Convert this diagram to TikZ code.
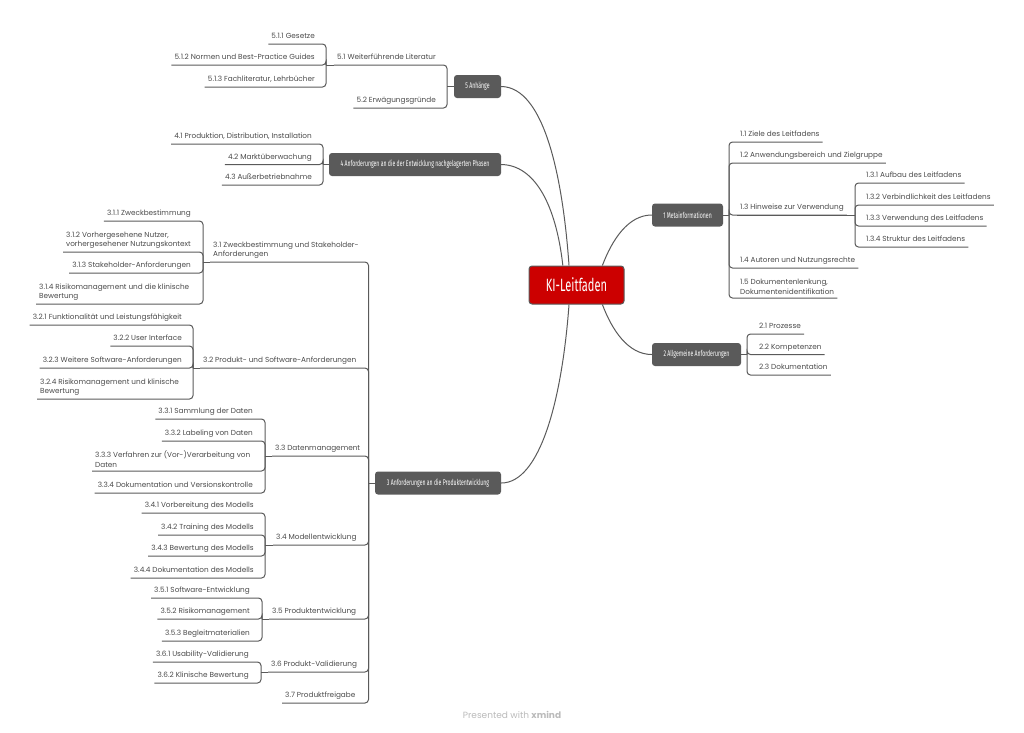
\documentclass[tikz,border=0pt]{standalone}
\usepackage{fontspec}
\setmainfont{Poppins}
\newfontfamily\narrowfont[FakeStretch=0.62]{Fira Sans}
\usepackage{xcolor}
\definecolor{linegray}{HTML}{5A5A5A}
\definecolor{textgray}{HTML}{4A4A4A}
\definecolor{boxgray}{HTML}{5A5A5A}
\definecolor{rootred}{HTML}{CC0000}
\tikzset{
  leaf/.style={font=\fontsize{7.3}{9}\selectfont, text=textgray, inner xsep=3pt, inner ysep=3pt, text depth=2pt},
  leafl/.style={leaf, anchor=south east},
  leafr/.style={leaf, anchor=south west},
  twoline/.style={font=\fontsize{7.3}{9.3}\selectfont, text=textgray, inner xsep=3pt, inner ysep=3.5pt, align=left},
  topic/.style={rectangle, rounded corners=3pt, fill=boxgray, text=white, font=\narrowfont\fontsize{8.3}{9}\selectfont, inner sep=0pt, minimum height=23pt},
  link/.style={draw=linegray, line width=1pt, rounded corners=3.5pt},
  branch/.style={draw=linegray, line width=1pt}
}
\begin{document}
\begin{tikzpicture}[x=1pt,y=-1pt]
\useasboundingbox (0,0) rectangle (1024,732);

% centre and main topics
\node[rectangle, rounded corners=3pt, fill=rootred, draw=linegray, line width=1pt, text=white, font=\narrowfont\fontsize{17.8}{19}\selectfont, minimum width=95pt, minimum height=38pt, inner sep=0pt] (kl) at (576.5,285) {KI-Leitfaden};
\node[topic, minimum width=71pt] (n1) at (687.5,215) {1 Metainformationen};
\node[topic, minimum width=89pt] (n2) at (696.5,354.5) {2 Allgemeine Anforderungen};
\node[topic, minimum width=126pt] (n3) at (438,483) {3 Anforderungen an die Produktentwicklung};
\node[topic, minimum width=172pt] (n4) at (415,164.5) {4 Anforderungen an die der Entwicklung nachgelagerten Phasen};
\node[topic, minimum width=47pt] (n5) at (477.5,86.5) {5 Anhänge};

\draw[branch] (kl.37) .. controls (612,240) and (628,215) .. (n1.west);
\draw[branch] (kl.-37) .. controls (612,330) and (628,354.5) .. (n2.west);
\draw[branch] (kl.111.5) .. controls (563,180) and (545,87) .. (n5.east);
\draw[branch] (kl.125.4) .. controls (556,205) and (535,165) .. (n4.east);
\draw[branch] (kl.-111.5) .. controls (562,400) and (540,483) .. (n3.east);

% 1 Metainformationen
\coordinate (t1) at (729,215);
\coordinate (t13) at (855,215);
\node[leafr] (n11) at (737,142) {1.1 Ziele des Leitfadens};
\node[leafr] (n12) at (737,163) {1.2 Anwendungsbereich und Zielgruppe};
\node[leafr] (n13) at (737,215) {1.3 Hinweise zur Verwendung};
\node[leafr] (n14) at (737,268) {1.4 Autoren und Nutzungsrechte};
\node[twoline, anchor=south west] (n15) at (737,298) {1.5 Dokumentenlenkung,\\Dokumentenidentifikation};
\node[leafr] (n131) at (863,183) {1.3.1 Aufbau des Leitfadens};
\node[leafr] (n132) at (863,205) {1.3.2 Verbindlichkeit des Leitfadens};
\node[leafr] (n133) at (863,226) {1.3.3 Verwendung des Leitfadens};
\node[leafr] (n134) at (863,247) {1.3.4 Struktur des Leitfadens};
\draw[link] (n1.east) -- (t1);
\foreach \c in {n11,n12,n13,n14,n15} \draw[link] (\c.south east) -| (t1);
\foreach \c in {n131,n132,n133,n134} \draw[link] (\c.south east) -| (t13);
\draw[link] (n13.south west) -- (t13);

% 2 Allgemeine Anforderungen
\coordinate (t2) at (747,354.5);
\node[leafr] (n21) at (756,334) {2.1 Prozesse};
\node[leafr] (n22) at (756,354.5) {2.2 Kompetenzen};
\node[leafr] (n23) at (756,375) {2.3 Dokumentation};
\draw[link] (n2.east) -- (t2);
\foreach \c in {n21,n22,n23} \draw[link] (\c.south east) -| (t2);

% 5 Anhaenge
\coordinate (t5) at (447,86.5);
\coordinate (t51) at (326,65);
\node[leafl] (n51) at (439,65) {5.1 Weiterführende Literatur};
\node[leafl] (n52) at (439,108) {5.2 Erwägungsgründe};
\node[leafl] (n511) at (318,44) {5.1.1 Gesetze};
\node[leafl] (n512) at (318,65) {5.1.2 Normen und Best-Practice Guides};
\node[leafl] (n513) at (318,87) {5.1.3 Fachliteratur, Lehrbücher};
\draw[link] (n5.west) -- (t5);
\foreach \c in {n51,n52} \draw[link] (\c.south west) -| (t5);
\foreach \c in {n511,n512,n513} \draw[link] (\c.south west) -| (t51);
\draw[link] (t51) -- (n51.south west);

% 4 nachgelagerte Phasen
\coordinate (t4) at (323,164.5);
\node[leafl] (n41) at (315,144) {4.1 Produktion, Distribution, Installation};
\node[leafl] (n42) at (315,164.5) {4.2 Marktüberwachung};
\node[leafl] (n43) at (315,185) {4.3 Außerbetriebnahme};
\draw[link] (n4.west) -- (t4);
\foreach \c in {n41,n42,n43} \draw[link] (\c.south west) -| (t4);

% 3 Produktentwicklung
\coordinate (t3) at (368.5,483);
\node[twoline, anchor=south west] (n31) at (210,262) {3.1 Zweckbestimmung und Stakeholder-\\Anforderungen};
\node[leafr] (n32) at (200,368) {3.2 Produkt- und Software-Anforderungen};
\node[leafr] (n33) at (272,456) {3.3 Datenmanagement};
\node[leafr] (n34) at (273,545) {3.4 Modellentwicklung};
\node[leafr] (n35) at (269,619) {3.5 Produktentwicklung};
\node[leafr] (n36) at (268,672) {3.6 Produkt-Validierung};
\node[leafr] (n37) at (282,703) {3.7 Produktfreigabe};
\draw[link] (n3.west) -- (t3);
\foreach \c in {n31,n32,n33,n34,n35,n36,n37} \draw[link] (\c.south west) -| (t3);

\coordinate (t31) at (203,262);
\node[leafl] (n311) at (194,221) {3.1.1 Zweckbestimmung};
\node[twoline, anchor=south east] (n312) at (194,252) {3.1.2 Vorhergesehene Nutzer,\\vorhergesehener Nutzungskontext};
\node[leafl] (n313) at (194,273) {3.1.3 Stakeholder-Anforderungen};
\node[twoline, anchor=south west] (n314) at (36,304) {3.1.4 Risikomanagement und die klinische\\Bewertung};
\foreach \c in {n311,n312,n313} \draw[link] (\c.south west) -| (t31);
\draw[link] (n314.south west) -| (t31);
\draw[link] (t31) -- (n31.south west);

\coordinate (t32) at (193,368);
\node[leafl] (n321) at (185,325) {3.2.1 Funktionalität und Leistungsfähigkeit};
\node[leafl] (n322) at (185,346) {3.2.2 User Interface};
\node[leafl] (n323) at (185,368) {3.2.3 Weitere Software-Anforderungen};
\node[twoline, anchor=south west] (n324) at (37,399) {3.2.4 Risikomanagement und klinische\\Bewertung};
\foreach \c in {n321,n322,n323,n324} \draw[link] (\c.south west) -| (t32);
\draw[link] (t32) -- (n32.south west);

\coordinate (t33) at (265,456);
\node[leafl] (n331) at (256,419) {3.3.1 Sammlung der Daten};
\node[leafl] (n332) at (256,441) {3.3.2 Labeling von Daten};
\node[twoline, anchor=south west] (n333) at (92,471) {3.3.3 Verfahren zur (Vor-)Verarbeitung von\\Daten};
\node[leafl] (n334) at (256,493) {3.3.4 Dokumentation und Versionskontrolle};
\foreach \c in {n331,n332,n333,n334} \draw[link] (\c.south west) -| (t33);
\draw[link] (t33) -- (n33.south west);

\coordinate (t34) at (265,545);
\node[leafl] (n341) at (257,513) {3.4.1 Vorbereitung des Modells};
\node[leafl] (n342) at (257,535) {3.4.2 Training des Modells};
\node[leafl] (n343) at (257,556) {3.4.3 Bewertung des Modells};
\node[leafl] (n344) at (257,578) {3.4.4 Dokumentation des Modells};
\foreach \c in {n341,n342,n343,n344} \draw[link] (\c.south west) -| (t34);
\draw[link] (t34) -- (n34.south west);

\coordinate (t35) at (262,619);
\node[leafl] (n351) at (253,598) {3.5.1 Software-Entwicklung};
\node[leafl] (n352) at (253,619) {3.5.2 Risikomanagement};
\node[leafl] (n353) at (253,641) {3.5.3 Begleitmaterialien};
\foreach \c in {n351,n352,n353} \draw[link] (\c.south west) -| (t35);
\draw[link] (t35) -- (n35.south west);

\coordinate (t36) at (261,672);
\node[leafl] (n361) at (252,662) {3.6.1 Usability-Validierung};
\node[leafl] (n362) at (252,683) {3.6.2 Klinische Bewertung};
\foreach \c in {n361,n362} \draw[link] (\c.south west) -| (t36);
\draw[link] (t36) -- (n36.south west);

% footer
\node[font=\fontsize{9}{10}\selectfont, text=black!27, inner sep=0pt] (pw) at (512,715) {Presented with \textbf{xmind}};
\end{tikzpicture}
\end{document}
